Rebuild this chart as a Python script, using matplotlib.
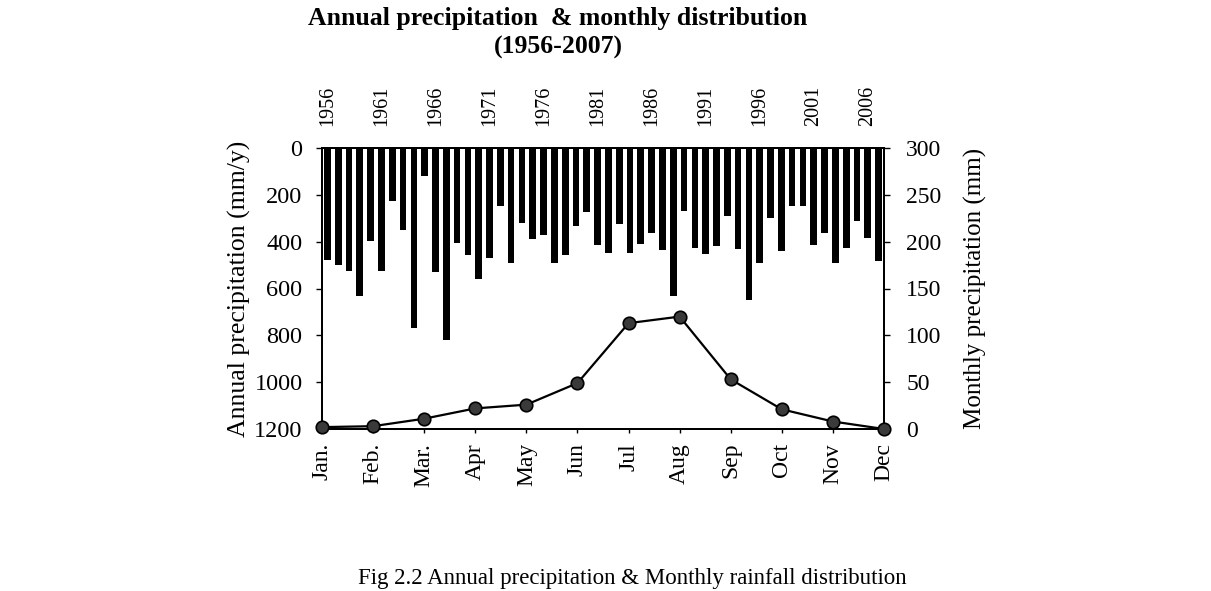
import numpy as np
import matplotlib
matplotlib.use("Agg")
import matplotlib.pyplot as plt

# 연간 강수량 (1956-2007), 그림에서 읽은 값
years = np.arange(1956, 2008)
annual = [477, 498, 527, 633, 399, 524, 228, 349, 769, 121, 531, 821, 406, 455, 558, 470,
          246, 491, 320, 389, 373, 491, 455, 332, 275, 416, 448, 325, 448, 409, 363, 434,
          631, 270, 427, 451, 420, 292, 431, 648,
          491, 299, 441, 249, 249, 413, 363, 491, 427, 313, 384, 484]

# 월별 강수량
months = ["Jan.", "Feb.", "Mar.", "Apr", "May", "Jun", "Jul", "Aug", "Sep", "Oct", "Nov", "Dec"]
monthly = [2, 3, 11, 22, 26, 49, 113, 120, 53, 21, 8, 0]

year_labels = [str(y) for y in years[::5]]

plt.rcParams["font.family"] = ["Liberation Serif", "DejaVu Serif"]

fig = plt.figure(figsize=(12.11, 5.91), dpi=100)
rect = [322 / 1211, 1 - 429 / 591, (884 - 322) / 1211, (429 - 148) / 591]

# 1) 막대: 위쪽 x축(연도), 왼쪽 y축(뒤집힘)
ax = fig.add_axes(rect)
idx = np.arange(len(years))
ax.bar(idx, annual, width=0.62, color="black")
ax.set_xlim(-0.5, len(years) - 0.5)
ax.set_ylim(1200, 0)
ax.set_yticks(np.arange(0, 1201, 200))
ax.xaxis.tick_top()
ax.set_xticks(idx[::5])
ax.set_xticklabels(year_labels, rotation=90, fontsize=14.5)
ax.tick_params(axis="x", length=0, pad=16)
ax.tick_params(axis="y", labelsize=17.5, direction="out", length=4, width=1, pad=10)
ax.set_ylabel("Annual precipitation (mm/y)", fontsize=18.5, labelpad=2)

# 2) 선: 아래쪽 x축(월), 오른쪽 y축
ax2 = fig.add_axes(rect)
ax2.patch.set_visible(False)
ax2.plot(np.arange(12), monthly, color="black", lw=1.6, marker="o", ms=9,
         mfc="#3a3a3a", mec="black", mew=1.2, clip_on=False, zorder=5)
ax2.set_xlim(0, 11)
ax2.set_ylim(0, 300)
ax2.set_yticks(np.arange(0, 301, 50))
ax2.yaxis.tick_right()
ax2.yaxis.set_label_position("right")
ax2.set_xticks(np.arange(12))
ax2.set_xticklabels(months, rotation=90, fontsize=17)
ax2.tick_params(axis="x", direction="out", length=3, width=1, pad=7)
ax2.tick_params(axis="y", labelsize=17, direction="out", length=4, width=1, pad=12)
ax2.set_ylabel("Monthly precipitation (mm)", fontsize=18, labelpad=16)

for a in (ax, ax2):
    for s in a.spines.values():
        s.set_linewidth(1.4)
        s.set_color("black")

fig.text(558 / 1211, 1 - 7 / 591, "Annual precipitation  & monthly distribution\n(1956-2007)",
         ha="center", va="top", fontsize=18.5, fontweight="bold", linespacing=1.3)

fig.text(632 / 1211, 1 - 584 / 591, "Fig 2.2 Annual precipitation & Monthly rainfall distribution",
         ha="center", va="baseline", fontsize=16.5)

fig.savefig("out.png", dpi=100)
